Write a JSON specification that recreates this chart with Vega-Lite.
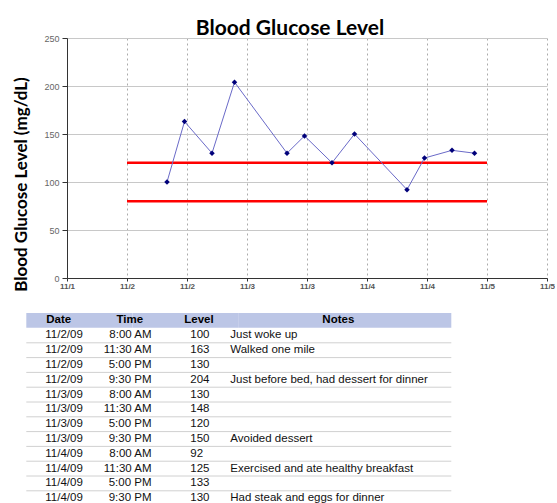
{
  "$schema": "https://vega.github.io/schema/vega-lite/v6.json",
  "padding": {"left": 11, "top": 18, "right": 0, "bottom": 0},
  "background": "white",
  "config": {"view": {"stroke": null}},
  "datasets": {
    "readings": [
      {"t": "2009-11-02T08:00:00", "Date": "11/2/09", "Time": "8:00 AM", "Level": 100, "Notes": "Just woke up"},
      {"t": "2009-11-02T11:30:00", "Date": "11/2/09", "Time": "11:30 AM", "Level": 163, "Notes": "Walked one mile"},
      {"t": "2009-11-02T17:00:00", "Date": "11/2/09", "Time": "5:00 PM", "Level": 130, "Notes": ""},
      {"t": "2009-11-02T21:30:00", "Date": "11/2/09", "Time": "9:30 PM", "Level": 204, "Notes": "Just before bed, had dessert for dinner"},
      {"t": "2009-11-03T08:00:00", "Date": "11/3/09", "Time": "8:00 AM", "Level": 130, "Notes": ""},
      {"t": "2009-11-03T11:30:00", "Date": "11/3/09", "Time": "11:30 AM", "Level": 148, "Notes": ""},
      {"t": "2009-11-03T17:00:00", "Date": "11/3/09", "Time": "5:00 PM", "Level": 120, "Notes": ""},
      {"t": "2009-11-03T21:30:00", "Date": "11/3/09", "Time": "9:30 PM", "Level": 150, "Notes": "Avoided dessert"},
      {"t": "2009-11-04T08:00:00", "Date": "11/4/09", "Time": "8:00 AM", "Level": 92, "Notes": ""},
      {"t": "2009-11-04T11:30:00", "Date": "11/4/09", "Time": "11:30 AM", "Level": 125, "Notes": "Exercised and ate healthy breakfast"},
      {"t": "2009-11-04T17:00:00", "Date": "11/4/09", "Time": "5:00 PM", "Level": 133, "Notes": ""},
      {"t": "2009-11-04T21:30:00", "Date": "11/4/09", "Time": "9:30 PM", "Level": 130, "Notes": "Had steak and eggs for dinner"}
    ],
    "limits": [
      {"start": "2009-11-02T00:00:00", "end": "2009-11-05T00:00:00", "limit": 120},
      {"start": "2009-11-02T00:00:00", "end": "2009-11-05T00:00:00", "limit": 80}
    ],
    "columns": [
      {"name": "Date"}, {"name": "Time"}, {"name": "Level"}, {"name": "Notes"}
    ]
  },
  "spacing": 21,
  "vconcat": [
    {
      "width": 480,
      "height": 240,
      "title": {"text": "Blood Glucose Level", "font": "Lato", "fontSize": 21, "fontWeight": "bold", "color": "#000000", "offset": -5, "dx": -17},
      "layer": [
        {
          "data": {"name": "limits"},
          "mark": {"type": "rule", "color": "#ff0000", "strokeWidth": 2.5},
          "encoding": {
            "x": {"field": "start", "type": "temporal", "title": null},
            "x2": {"field": "end"},
            "y": {"field": "limit", "type": "quantitative", "title": "Blood Glucose Level (mg/dL)"}
          }
        },
        {
          "data": {"name": "readings"},
          "mark": {"type": "line", "color": "#6a6ac8", "strokeWidth": 1},
          "encoding": {
            "x": {
              "field": "t", "type": "temporal", "title": null,
              "scale": {"domain": [{"year": 2009, "month": 11, "date": 1, "hours": 12}, {"year": 2009, "month": 11, "date": 5, "hours": 12}], "nice": false},
              "axis": {
                "values": [
                  {"year": 2009, "month": 11, "date": 1, "hours": 12},
                  {"year": 2009, "month": 11, "date": 2, "hours": 0},
                  {"year": 2009, "month": 11, "date": 2, "hours": 12},
                  {"year": 2009, "month": 11, "date": 3, "hours": 0},
                  {"year": 2009, "month": 11, "date": 3, "hours": 12},
                  {"year": 2009, "month": 11, "date": 4, "hours": 0},
                  {"year": 2009, "month": 11, "date": 4, "hours": 12},
                  {"year": 2009, "month": 11, "date": 5, "hours": 0},
                  {"year": 2009, "month": 11, "date": 5, "hours": 12}
                ],
                "format": "%-m/%-d",
                "grid": true, "gridDash": [2, 3], "gridColor": "#aaaaaa",
                "domainColor": "#333333", "tickColor": "#333333", "tickSize": 3,
                "labelFont": "Liberation Sans", "labelFontSize": 8, "labelFontWeight": "bold", "labelColor": "#555555",
                "labelPadding": 1, "labelOverlap": false, "labelFlush": false
              }
            },
            "y": {
              "field": "Level", "type": "quantitative", "title": "Blood Glucose Level (mg/dL)",
              "scale": {"domain": [0, 250], "nice": false},
              "axis": {
                "values": [0, 50, 100, 150, 200, 250],
                "grid": true, "gridColor": "#c8c8c8",
                "domainColor": "#333333", "tickColor": "#333333", "tickSize": 5,
                "labelFont": "Liberation Sans", "labelFontSize": 9, "labelColor": "#666666", "labelPadding": 3,
                "titleFont": "Lato", "titleFontSize": 17, "titleFontWeight": "bold", "titleColor": "#000000",
                "titleX": -37, "titleY": 146
              }
            }
          }
        },
        {
          "data": {"name": "readings"},
          "mark": {"type": "point", "shape": "diamond", "filled": true, "color": "#00007a", "size": 30, "opacity": 1},
          "encoding": {
            "x": {"field": "t", "type": "temporal", "title": null},
            "y": {"field": "Level", "type": "quantitative", "title": "Blood Glucose Level (mg/dL)"}
          }
        }
      ]
    },
    {
      "spacing": 0,
      "vconcat": [
        {
          "width": 425,
          "height": 14.8,
          "data": {"name": "columns"},
          "layer": [
            {"mark": {"type": "rect", "color": "#bcc6e6"}, "encoding": {"x": {"field": "name", "type": "nominal", "axis": null, "scale": {"domain": ["Date", "Time", "Level", "Notes"], "range": [-40.7, 384.3], "paddingInner": 0, "paddingOuter": 0}}}},
            {"transform": [{"filter": "datum.name == 'Date'"}], "mark": {"type": "text", "align": "left", "dx": 20, "font": "Liberation Sans", "fontSize": 11.5, "fontWeight": "bold", "color": "#000000"}, "encoding": {"x": {"field": "name", "type": "nominal", "bandPosition": 0}, "text": {"field": "name"}}},
            {"transform": [{"filter": "datum.name == 'Time'"}], "mark": {"type": "text", "align": "left", "dx": -16, "font": "Liberation Sans", "fontSize": 11.5, "fontWeight": "bold", "color": "#000000"}, "encoding": {"x": {"field": "name", "type": "nominal", "bandPosition": 0}, "text": {"field": "name"}}},
            {"transform": [{"filter": "datum.name == 'Level'"}], "mark": {"type": "text", "align": "left", "dx": -54.5, "font": "Liberation Sans", "fontSize": 11.5, "fontWeight": "bold", "color": "#000000"}, "encoding": {"x": {"field": "name", "type": "nominal", "bandPosition": 0}, "text": {"field": "name"}}},
            {"transform": [{"filter": "datum.name == 'Notes'"}], "mark": {"type": "text", "align": "center", "dx": -6.75, "font": "Liberation Sans", "fontSize": 11.5, "fontWeight": "bold", "color": "#000000"}, "encoding": {"x": {"field": "name", "type": "nominal", "bandPosition": 0}, "text": {"field": "name"}}}
          ]
        },
        {
          "width": 425,
          "height": 177.6,
          "data": {"name": "readings"},
          "layer": [
            {"mark": {"type": "rule", "color": "#d0d0d0", "strokeWidth": 1}, "encoding": {
              "x": {"datum": "Date", "type": "nominal", "bandPosition": 0, "axis": null, "scale": {"domain": ["Date", "Time", "Level", "Notes"], "range": [-40.7, 384.3], "paddingInner": 0, "paddingOuter": 0}},
              "x2": {"datum": "Notes", "bandPosition": 1},
              "y": {"field": "t", "type": "ordinal", "bandPosition": 1, "axis": null, "scale": {"paddingInner": 0, "paddingOuter": 0}}
            }},
            {"mark": {"type": "text", "align": "left", "dx": 19, "font": "Liberation Sans", "fontSize": 11.5, "color": "#111111"}, "encoding": {"x": {"datum": "Date", "type": "nominal", "bandPosition": 0}, "y": {"field": "t", "type": "ordinal"}, "text": {"field": "Date"}}},
            {"mark": {"type": "text", "align": "right", "dx": 19, "font": "Liberation Sans", "fontSize": 11.5, "color": "#111111"}, "encoding": {"x": {"datum": "Time", "type": "nominal", "bandPosition": 0}, "y": {"field": "t", "type": "ordinal"}, "text": {"field": "Time"}}},
            {"mark": {"type": "text", "align": "left", "dx": -48.5, "font": "Liberation Sans", "fontSize": 11.5, "color": "#111111"}, "encoding": {"x": {"datum": "Level", "type": "nominal", "bandPosition": 0}, "y": {"field": "t", "type": "ordinal"}, "text": {"field": "Level"}}},
            {"mark": {"type": "text", "align": "left", "dx": -114.75, "font": "Liberation Sans", "fontSize": 11.5, "color": "#111111"}, "encoding": {"x": {"datum": "Notes", "type": "nominal", "bandPosition": 0}, "y": {"field": "t", "type": "ordinal"}, "text": {"field": "Notes"}}}
          ]
        }
      ]
    }
  ]
}
